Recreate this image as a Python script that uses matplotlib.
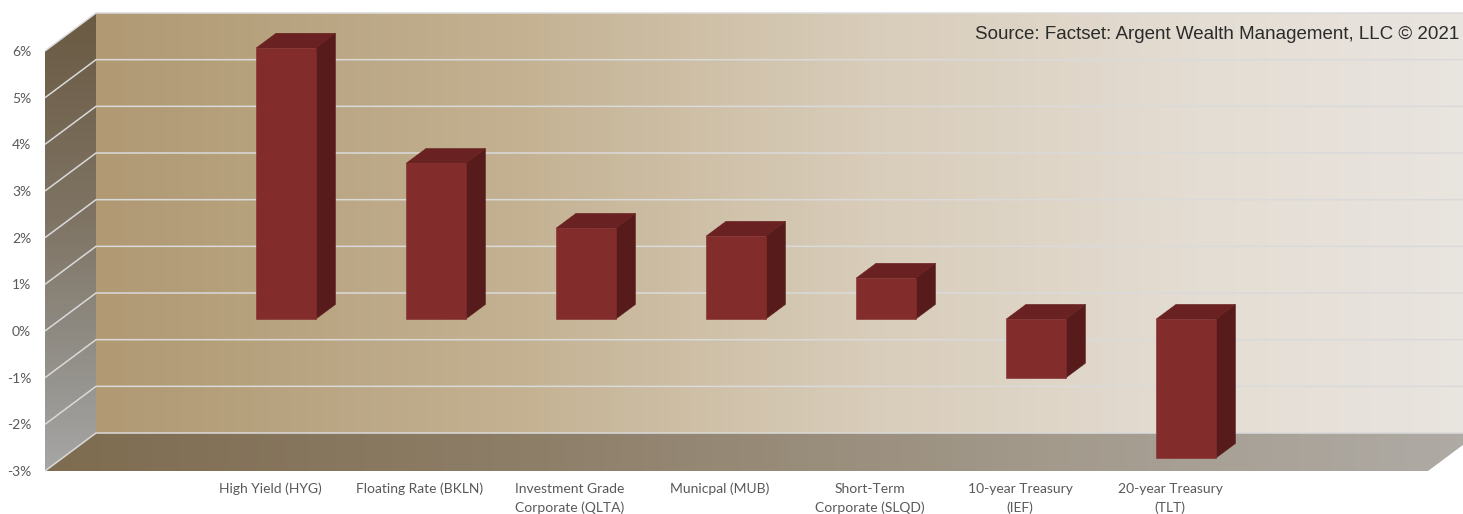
import matplotlib
matplotlib.use("Agg")
import matplotlib.pyplot as plt
import numpy as np
from matplotlib.colors import LinearSegmentedColormap
from matplotlib.patches import Polygon

categories = ["High Yield (HYG)", "Floating Rate (BKLN)", "Investment Grade\nCorporate (QLTA)",
              "Municpal (MUB)", "Short-Term\nCorporate (SLQD)", "10-year Treasury\n(IEF)",
              "20-year Treasury\n(TLT)"]
returns = [5.81, 3.34, 1.95, 1.78, 0.88, -1.26, -2.98]
y_ticks = [-3, -2, -1, 0, 1, 2, 3, 4, 5, 6]
y_labels = ["-3%", "-2%", "-1%", "0%", "1%", "2%", "3%", "4%", "5%", "6%"]
source = "Source: Factset: Argent Wealth Management, LLC \u00a9 2021"

W, H = 1463, 514
XMIN, XMAX = -1.5, 7.72
YMIN, YMAX = -3, 6
# how far the back wall sits behind the front plane, in data units
DX, DY = 0.34, 0.814
BAR_W = 0.396
BAR_D0, BAR_D1 = 0.31, 0.70


def shift(x, y, d):
    return x + d * DX, y + d * DY


fig = plt.figure(figsize=(W / 100, H / 100), dpi=100)
ax = fig.add_axes([45 / W, 1 - 471 / H, (1428 - 45) / W, (471 - 51) / H])
ax.set_xlim(XMIN, XMAX)
ax.set_ylim(YMIN, YMAX)


def gradient(stops, poly_pts, extent, vertical=False, z=1):
    cmap = LinearSegmentedColormap.from_list("g", stops)
    arr = np.linspace(0, 1, 256).reshape(256, 1) if vertical else np.linspace(0, 1, 256).reshape(1, 256)
    im = ax.imshow(arr, cmap=cmap, extent=extent, aspect="auto", origin="upper", zorder=z)
    # walls reach past the axes box, so clip to the figure and the face outline only
    clip = Polygon(poly_pts, closed=True, transform=ax.transData, fill=False, edgecolor="none")
    im.set_clip_box(fig.bbox)
    im.set_clip_path(clip)
    return im


# back wall
x0b, y0b = shift(XMIN, YMIN, 1)
x1b, y1b = shift(XMAX, YMAX, 1)
gradient([(0, "#B09973"), (0.3, "#C3B191"), (0.55, "#D8CCB9"), (0.8, "#E4DDD3"), (1, "#E9E5E0")],
         [(x0b, y0b), (x1b, y0b), (x1b, y1b), (x0b, y1b)], (x0b, x1b, y0b, y1b))

# left side wall
side = [(XMIN, YMIN), (x0b, y0b), (x0b, y1b), (XMIN, YMAX)]
gradient([(0, "#6A5A43"), (0.45, "#7F7464"), (0.75, "#928F88"), (1, "#A6A6A6")],
         side, (XMIN, x0b, YMIN, y1b), vertical=True)

# floor
floor = [(XMIN, YMIN), (XMAX, YMIN), (x1b, y0b), (x0b, y0b)]
gradient([(0, "#7E6C50"), (0.35, "#8E7F69"), (0.7, "#A39A8C"), (1, "#AFABA5")],
         floor, (XMIN, x1b, YMIN, y0b))

# gridlines run along the side wall and then the back wall
for v in y_ticks:
    xb, yb = shift(XMIN, v, 1)
    ax.plot([XMIN, xb, x1b], [v, yb, yb], color="#DADADA", lw=1.1, zorder=2,
            clip_on=False, solid_joinstyle="miter", solid_capstyle="butt")

# bars: front face from the data, side and top faces pushed back by the depth
for i, val in enumerate(returns):
    left = i - BAR_W / 2
    right = i + BAR_W / 2
    fx0, fy0 = shift(left, 0, BAR_D0)
    fx1, fy1 = shift(right, val, BAR_D0)
    bx1, by1 = shift(right, val, BAR_D1)
    bx2, by2 = shift(right, 0, BAR_D1)
    ytop = max(0, val)
    top_f0 = shift(left, ytop, BAR_D0)
    top_f1 = shift(right, ytop, BAR_D0)
    top_b1 = shift(right, ytop, BAR_D1)
    top_b0 = shift(left, ytop, BAR_D1)
    ax.add_patch(Polygon([(fx1, fy0), (bx2, by2), (bx1, by1), (fx1, fy1)], closed=True,
                         facecolor="#571B1B", edgecolor="#571B1B", lw=0.4, zorder=4, clip_on=False))
    ax.add_patch(Polygon([top_f0, top_f1, top_b1, top_b0], closed=True,
                         facecolor="#6A2121", edgecolor="#6A2121", lw=0.4, zorder=4, clip_on=False))
    ax.bar(fx0 + BAR_W / 2, val, width=BAR_W, bottom=fy0, color="#832C2C",
           edgecolor="#832C2C", lw=0.4, zorder=5, clip_on=False)

ax.set_xlim(XMIN, XMAX)
ax.set_ylim(YMIN, YMAX)

ax.set_yticks(y_ticks)
ax.set_yticklabels(y_labels, family="Lato", fontsize=10, color="#595959")
ax.set_xticks(range(len(categories)))
ax.set_xticklabels(categories, family="Lato", fontsize=10, color="#595959", linespacing=1.65)
ax.tick_params(axis="y", length=0, pad=10)
ax.tick_params(axis="x", length=0, pad=8.5)
for s in ax.spines.values():
    s.set_visible(False)
ax.patch.set_visible(False)

fig.text(1459 / W, 1 - 34.5 / H, source, family="Liberation Sans", fontsize=13.5, color="#2B2B2B",
         ha="right", va="center", zorder=10)

fig.savefig("out.png", dpi=100)
